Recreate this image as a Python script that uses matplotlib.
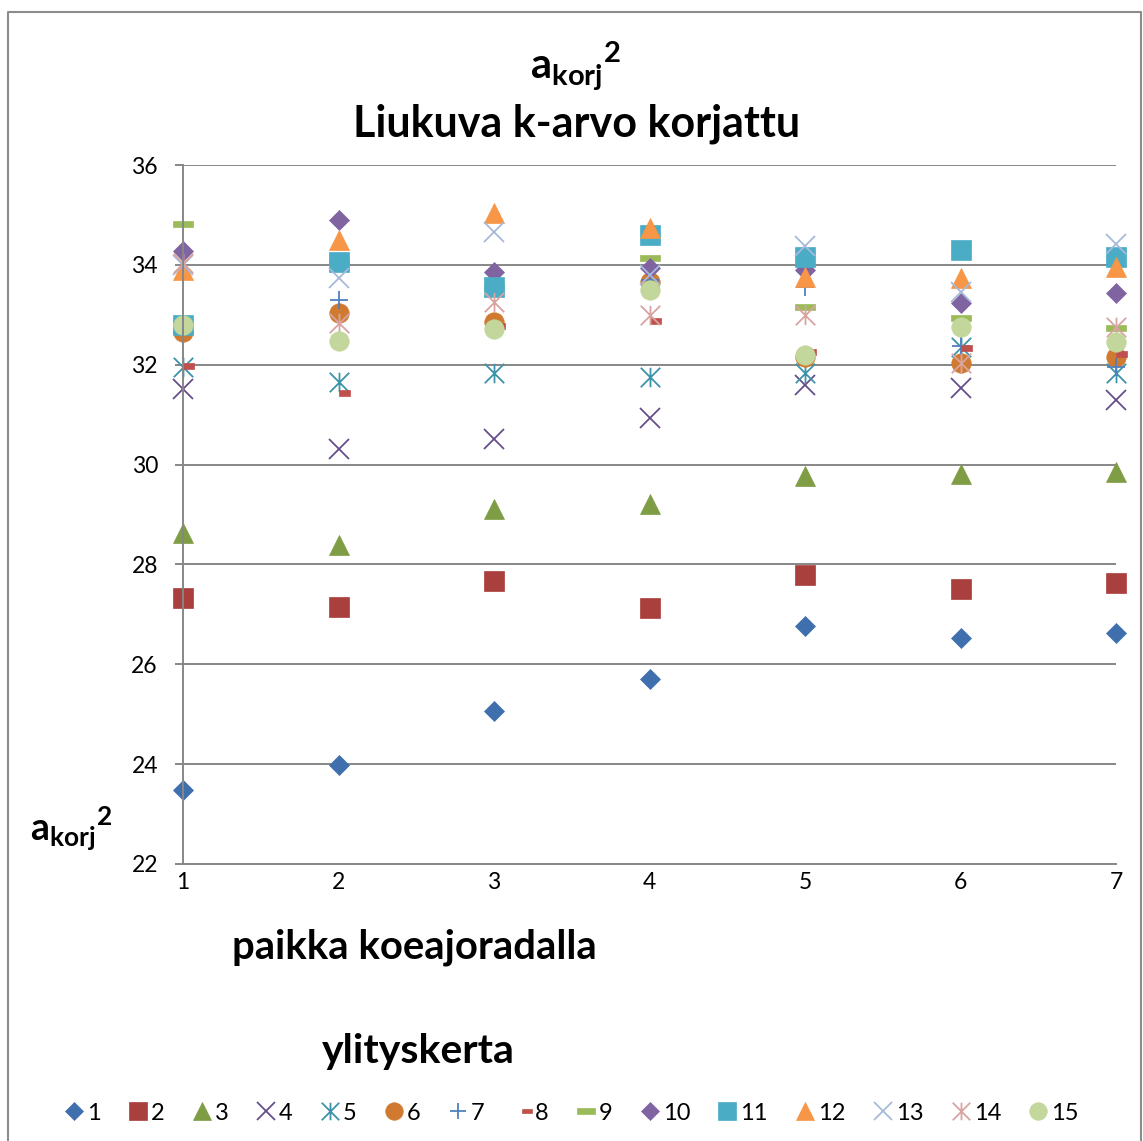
import matplotlib
matplotlib.use('Agg')
import matplotlib.pyplot as plt
from matplotlib.path import Path
from matplotlib.lines import Line2D

plt.rcParams['font.family'] = ['Lato', 'DejaVu Sans']
plt.rcParams['mathtext.fontset'] = 'custom'
plt.rcParams['mathtext.bf'] = 'Lato:bold'
plt.rcParams['mathtext.rm'] = 'Lato'

# measuring positions along the test track
paikka = [1, 2, 3, 4, 5, 6, 7]

# a_korj^2 for each crossing (ylityskerta 1..15)
s1 = [23.48, 23.98, 25.06, 25.71, 26.77, 26.53, 26.63]
s2 = [27.33, 27.15, 27.66, 27.12, 27.79, 27.51, 27.63]
s3 = [28.63, 28.39, 29.11, 29.21, 29.77, 29.81, 29.85]
s4 = [31.52, 30.31, 30.51, 30.93, 31.59, 31.53, 31.29]
s5 = [31.96, 31.66, 31.83, 31.76, 31.83, 32.35, 31.83]
s6 = [32.66, 33.04, 32.86, 33.66, 32.16, 32.03, 32.16]
s7 = [32.80, 33.30, 33.55, 33.70, 33.56, 32.38, 31.96]
s8 = [31.98, 31.43, 32.78, 32.88, 32.26, 32.33, 32.21]
s9 = [34.81, 34.05, 33.55, 34.14, 33.16, 32.93, 32.73]
s10 = [34.28, 34.90, 33.86, 33.93, 33.90, 33.23, 33.43]
s11 = [32.80, 34.06, 33.56, 34.60, 34.16, 34.30, 34.16]
s12 = [33.90, 34.50, 35.04, 34.74, 33.76, 33.73, 33.96]
s13 = [34.00, 33.74, 34.66, 33.80, 34.38, 33.46, 34.42]
s14 = [34.03, 32.83, 33.26, 33.00, 33.00, 32.03, 32.76]
s15 = [32.80, 32.48, 32.71, 33.50, 32.20, 32.76, 32.46]

sarjat = [s1, s2, s3, s4, s5, s6, s7, s8, s9, s10, s11, s12, s13, s14, s15]
nimet = [str(i) for i in range(1, 16)]

# excel-like marker shapes
star = Path([(0, -1), (0, 1), (-1, -1), (1, 1), (-1, 1), (1, -1)],
            [Path.MOVETO, Path.LINETO] * 3)
short_dash = [(0, -0.23), (1, -0.23), (1, 0.23), (0, 0.23), (0, -0.23)]
long_dash = [(-1, -0.31), (1, -0.31), (1, 0.31), (-1, 0.31), (-1, -0.31)]

# marker, colour, size, line marker?
tyylit = [
    ('D', '#3F6FAD', 10, False),
    ('s', '#A9403D', 14, False),
    ('^', '#7F9D45', 14, False),
    ('x', '#674E8A', 14, True),
    (star, '#3C93AA', 14, True),
    ('o', '#D07A30', 14, False),
    ('+', '#4F81BD', 13, True),
    (short_dash, '#C0504D', 16, False),
    (long_dash, '#9BBB59', 14, False),
    ('D', '#8064A2', 10, False),
    ('s', '#4BACC6', 14, False),
    ('^', '#F79646', 14, False),
    ('x', '#A7B9DA', 14, True),
    (star, '#D9A3A2', 14, True),
    ('o', '#C3D69B', 14, False),
]

fig = plt.figure(figsize=(11.43, 11.41), dpi=100)
ax = fig.add_axes([183 / 1143, 1 - 864 / 1141, (1116 - 183) / 1143, (864 - 165) / 1141])

handles = []
for arvot, nimi, (mk, col, ms, viiva) in zip(sarjat, nimet, tyylit):
    if viiva:
        h, = ax.plot(paikka, arvot, linestyle='none', marker=mk, ms=ms,
                     mec=col, mfc='none', mew=1.3, clip_on=False, label=nimi)
    else:
        h, = ax.plot(paikka, arvot, linestyle='none', marker=mk, ms=ms,
                     mec=col, mfc=col, mew=0.5, clip_on=False, label=nimi)
    handles.append(h)

ax.set_xlim(1, 7)
ax.set_ylim(22, 36)
ax.set_xticks(paikka)
ax.set_yticks(range(22, 37, 2))
ax.set_axisbelow(True)
ax.grid(axis='y', color='#878787', lw=1.4)
for s in ['top', 'right']:
    ax.spines[s].set_visible(False)
for s in ['left', 'bottom']:
    ax.spines[s].set_color('#878787')
    ax.spines[s].set_linewidth(1.4)
ax.tick_params(axis='y', length=6, width=1.4, color='#878787', pad=12, labelsize=16.5)
ax.tick_params(axis='x', length=0, pad=6, labelsize=16.5)

# titles and axis texts
fig.text(0.504, 1 - 79 / 1141, r'$\mathbf{a}_{\mathbf{korj}}{}^{\mathbf{2}}$',
         ha='center', va='baseline', fontsize=30)
fig.text(0.504, 1 - 137 / 1141, 'Liukuva k-arvo korjattu', ha='center',
         va='baseline', fontsize=31, fontweight='bold')
fig.text(30 / 1143, 1 - 841 / 1141, r'$\mathbf{a}_{\mathbf{korj}}{}^{\mathbf{2}}$',
         ha='left', va='baseline', fontsize=27)
fig.text(232 / 1143, 1 - 959 / 1141, 'paikka koeajoradalla', ha='left',
         va='baseline', fontsize=28.8, fontweight='bold')
fig.text(322 / 1143, 1 - 1063 / 1141, 'ylityskerta', ha='left',
         va='baseline', fontsize=29.5, fontweight='bold')

fig.legend(handles, nimet, ncol=15, loc='center', bbox_to_anchor=(0.500, 1 - 1113 / 1141),
           frameon=False, fontsize=17, markerscale=0.9, handlelength=0.8,
           handletextpad=0.15, columnspacing=1.18, borderpad=0)

# chart border
x0, x1, yt = 8 / 1143, 1141 / 1143, 1 - 12 / 1141
fig.add_artist(Line2D([x0, x0, x1, x1], [0, yt, yt, 0], transform=fig.transFigure,
                      color='#8c8c8c', lw=1.5))

fig.savefig('out.png', dpi=100)
